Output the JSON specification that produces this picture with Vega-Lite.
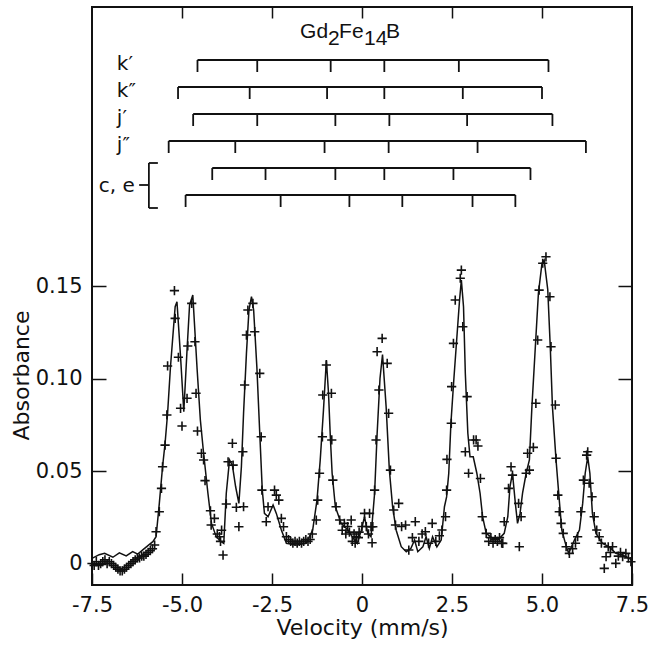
{
  "$schema": "https://vega.github.io/schema/vega-lite/v6.json",
  "width": 540,
  "height": 578,
  "autosize": {"type": "none"},
  "padding": {"left": 92, "top": 7, "right": 19, "bottom": 64},
  "background": "white",
  "config": {
    "view": {"stroke": "#111", "strokeWidth": 2},
    "axis": {
      "domain": false, "grid": false, "ticks": true, "tickColor": "#111", "tickWidth": 1.5, "labelFlush": false,
      "labelFont": "DejaVu Sans", "labelFontSize": 21, "labelColor": "#111",
      "titleFont": "DejaVu Sans", "titleFontSize": 22, "titleFontWeight": "normal", "titleColor": "#111"
    }
  },
  "datasets": {
    "fit": [
      {"v": -7.5, "a": 0.0028}, {"v": -7.3, "a": 0.0048}, {"v": -7.15, "a": 0.0055}, {"v": -6.92, "a": 0.0034},
      {"v": -6.74, "a": 0.0058}, {"v": -6.55, "a": 0.0041}, {"v": -6.37, "a": 0.0064}, {"v": -6.23, "a": 0.0051},
      {"v": -6.04, "a": 0.0082}, {"v": -5.81, "a": 0.0118}, {"v": -5.72, "a": 0.0145}, {"v": -5.63, "a": 0.0325},
      {"v": -5.54, "a": 0.0523}, {"v": -5.47, "a": 0.065}, {"v": -5.40, "a": 0.0812}, {"v": -5.32, "a": 0.1064},
      {"v": -5.19, "a": 0.1388}, {"v": -5.14, "a": 0.1415}, {"v": -5.04, "a": 0.1118}, {"v": -4.95, "a": 0.082},
      {"v": -4.86, "a": 0.1154}, {"v": -4.79, "a": 0.1397}, {"v": -4.70, "a": 0.1451}, {"v": -4.58, "a": 0.105},
      {"v": -4.49, "a": 0.0776}, {"v": -4.40, "a": 0.0596}, {"v": -4.28, "a": 0.038}, {"v": -4.18, "a": 0.0217},
      {"v": -4.05, "a": 0.0145}, {"v": -3.91, "a": 0.0118}, {"v": -3.84, "a": 0.0109}, {"v": -3.77, "a": 0.038},
      {"v": -3.68, "a": 0.056}, {"v": -3.60, "a": 0.053}, {"v": -3.51, "a": 0.0415}, {"v": -3.42, "a": 0.0325},
      {"v": -3.35, "a": 0.0523}, {"v": -3.29, "a": 0.0812}, {"v": -3.21, "a": 0.1136}, {"v": -3.14, "a": 0.137},
      {"v": -3.07, "a": 0.1442}, {"v": -3.01, "a": 0.137}, {"v": -2.92, "a": 0.106}, {"v": -2.84, "a": 0.0704},
      {"v": -2.77, "a": 0.0397}, {"v": -2.71, "a": 0.0271}, {"v": -2.61, "a": 0.0253}, {"v": -2.47, "a": 0.0316},
      {"v": -2.38, "a": 0.0271}, {"v": -2.24, "a": 0.0181}, {"v": -2.10, "a": 0.0109}, {"v": -1.83, "a": 0.010},
      {"v": -1.55, "a": 0.0109}, {"v": -1.37, "a": 0.0181}, {"v": -1.25, "a": 0.0343}, {"v": -1.16, "a": 0.056},
      {"v": -1.07, "a": 0.083}, {"v": -0.99, "a": 0.110}, {"v": -0.93, "a": 0.092}, {"v": -0.88, "a": 0.0685},
      {"v": -0.83, "a": 0.0488}, {"v": -0.74, "a": 0.0307}, {"v": -0.58, "a": 0.0217}, {"v": -0.39, "a": 0.0181},
      {"v": -0.21, "a": 0.0127}, {"v": -0.13, "a": 0.0109}, {"v": -0.02, "a": 0.018}, {"v": 0.07, "a": 0.0253},
      {"v": 0.16, "a": 0.0163}, {"v": 0.25, "a": 0.0145}, {"v": 0.35, "a": 0.038}, {"v": 0.42, "a": 0.070},
      {"v": 0.50, "a": 0.100}, {"v": 0.57, "a": 0.113}, {"v": 0.67, "a": 0.0848}, {"v": 0.76, "a": 0.0505},
      {"v": 0.85, "a": 0.0307}, {"v": 0.95, "a": 0.018}, {"v": 1.09, "a": 0.0091}, {"v": 1.23, "a": 0.0064},
      {"v": 1.36, "a": 0.0082}, {"v": 1.46, "a": 0.0127}, {"v": 1.55, "a": 0.0064}, {"v": 1.69, "a": 0.009},
      {"v": 1.78, "a": 0.0145}, {"v": 1.87, "a": 0.0082}, {"v": 1.96, "a": 0.0145}, {"v": 2.08, "a": 0.009},
      {"v": 2.20, "a": 0.0127}, {"v": 2.29, "a": 0.0307}, {"v": 2.35, "a": 0.036}, {"v": 2.41, "a": 0.0488},
      {"v": 2.47, "a": 0.0758}, {"v": 2.55, "a": 0.0992}, {"v": 2.63, "a": 0.1208}, {"v": 2.71, "a": 0.1424},
      {"v": 2.76, "a": 0.1532}, {"v": 2.82, "a": 0.1388}, {"v": 2.87, "a": 0.1028}, {"v": 2.94, "a": 0.0704},
      {"v": 3.00, "a": 0.0577}, {"v": 3.09, "a": 0.0577}, {"v": 3.19, "a": 0.0488}, {"v": 3.28, "a": 0.038},
      {"v": 3.35, "a": 0.0253}, {"v": 3.45, "a": 0.0163}, {"v": 3.63, "a": 0.0136}, {"v": 3.82, "a": 0.0136},
      {"v": 3.95, "a": 0.0163}, {"v": 4.05, "a": 0.0253}, {"v": 4.11, "a": 0.0415}, {"v": 4.18, "a": 0.0488},
      {"v": 4.26, "a": 0.0325}, {"v": 4.32, "a": 0.0217}, {"v": 4.39, "a": 0.0271}, {"v": 4.46, "a": 0.038},
      {"v": 4.56, "a": 0.0488}, {"v": 4.65, "a": 0.056}, {"v": 4.72, "a": 0.0848}, {"v": 4.81, "a": 0.1154},
      {"v": 4.90, "a": 0.146}, {"v": 5.00, "a": 0.1623}, {"v": 5.06, "a": 0.164}, {"v": 5.16, "a": 0.148},
      {"v": 5.23, "a": 0.117}, {"v": 5.29, "a": 0.0848}, {"v": 5.39, "a": 0.056}, {"v": 5.48, "a": 0.0343},
      {"v": 5.55, "a": 0.0181}, {"v": 5.65, "a": 0.0109}, {"v": 5.74, "a": 0.0055}, {"v": 5.90, "a": 0.0127},
      {"v": 6.04, "a": 0.0181}, {"v": 6.13, "a": 0.0325}, {"v": 6.20, "a": 0.0488}, {"v": 6.27, "a": 0.0577},
      {"v": 6.33, "a": 0.0488}, {"v": 6.40, "a": 0.0271}, {"v": 6.50, "a": 0.0163}, {"v": 6.68, "a": 0.0109},
      {"v": 6.87, "a": 0.009}, {"v": 7.05, "a": 0.0055}, {"v": 7.24, "a": 0.0046}, {"v": 7.42, "a": 0.0028},
      {"v": 7.5, "a": 0.002}
    ],
    "obs": [
      {"v": -7.50, "a": 0.000}, {"v": -7.44, "a": -0.001}, {"v": -7.38, "a": 0.001}, {"v": -7.32, "a": -0.001},
      {"v": -7.26, "a": 0.000}, {"v": -7.20, "a": 0.001}, {"v": -7.14, "a": 0.002}, {"v": -7.08, "a": 0.000},
      {"v": -7.02, "a": 0.001}, {"v": -6.96, "a": 0.000}, {"v": -6.90, "a": -0.001}, {"v": -6.84, "a": -0.002},
      {"v": -6.78, "a": -0.003}, {"v": -6.72, "a": -0.004}, {"v": -6.66, "a": -0.004}, {"v": -6.60, "a": -0.003},
      {"v": -6.54, "a": -0.002}, {"v": -6.48, "a": -0.001}, {"v": -6.42, "a": 0.000}, {"v": -6.36, "a": 0.001},
      {"v": -6.30, "a": 0.002}, {"v": -6.24, "a": 0.003}, {"v": -6.18, "a": 0.003}, {"v": -6.12, "a": 0.004},
      {"v": -6.06, "a": 0.004}, {"v": -6.00, "a": 0.005}, {"v": -5.94, "a": 0.006}, {"v": -5.88, "a": 0.007},
      {"v": -5.82, "a": 0.008}, {"v": -5.76, "a": 0.010},
      {"v": -5.72, "a": 0.0172}, {"v": -5.63, "a": 0.028}, {"v": -5.57, "a": 0.0406}, {"v": -5.54, "a": 0.0523},
      {"v": -5.47, "a": 0.064}, {"v": -5.42, "a": 0.0803}, {"v": -5.40, "a": 0.1068}, {"v": -5.21, "a": 0.1475},
      {"v": -5.19, "a": 0.1325}, {"v": -5.10, "a": 0.1115}, {"v": -5.04, "a": 0.0839}, {"v": -5.00, "a": 0.0743},
      {"v": -4.86, "a": 0.0893}, {"v": -4.84, "a": 0.1176}, {"v": -4.73, "a": 0.1406}, {"v": -4.64, "a": 0.1199},
      {"v": -4.61, "a": 0.092}, {"v": -4.57, "a": 0.0716}, {"v": -4.46, "a": 0.0596}, {"v": -4.40, "a": 0.056},
      {"v": -4.36, "a": 0.0448}, {"v": -4.21, "a": 0.0285}, {"v": -4.19, "a": 0.0208}, {"v": -4.10, "a": 0.0244},
      {"v": -4.02, "a": 0.016}, {"v": -3.96, "a": 0.0145}, {"v": -3.93, "a": 0.012}, {"v": -3.90, "a": 0.018},
      {"v": -3.86, "a": 0.0046}, {"v": -3.77, "a": 0.0322}, {"v": -3.72, "a": 0.055}, {"v": -3.60, "a": 0.065},
      {"v": -3.58, "a": 0.0532}, {"v": -3.49, "a": 0.0304}, {"v": -3.42, "a": 0.0199}, {"v": -3.31, "a": 0.0604},
      {"v": -3.29, "a": 0.0307}, {"v": -3.26, "a": 0.0965}, {"v": -3.21, "a": 0.1235}, {"v": -3.17, "a": 0.137},
      {"v": -3.03, "a": 0.1406}, {"v": -2.98, "a": 0.1253}, {"v": -2.84, "a": 0.1028}, {"v": -2.80, "a": 0.0685},
      {"v": -2.78, "a": 0.0397}, {"v": -2.66, "a": 0.0226}, {"v": -2.61, "a": 0.0307}, {"v": -2.43, "a": 0.0397},
      {"v": -2.38, "a": 0.037}, {"v": -2.31, "a": 0.0343}, {"v": -2.24, "a": 0.0244}, {"v": -2.18, "a": 0.0199},
      {"v": -2.10, "a": 0.0145}, {"v": -2.04, "a": 0.013}, {"v": -1.98, "a": 0.012}, {"v": -1.92, "a": 0.011},
      {"v": -1.86, "a": 0.012}, {"v": -1.80, "a": 0.011}, {"v": -1.74, "a": 0.012}, {"v": -1.68, "a": 0.011},
      {"v": -1.62, "a": 0.012}, {"v": -1.56, "a": 0.013}, {"v": -1.50, "a": 0.012}, {"v": -1.44, "a": 0.013},
      {"v": -1.38, "a": 0.016}, {"v": -1.27, "a": 0.0235}, {"v": -1.23, "a": 0.0343}, {"v": -1.18, "a": 0.0488},
      {"v": -1.10, "a": 0.0685}, {"v": -1.09, "a": 0.0911}, {"v": -0.99, "a": 0.1073}, {"v": -0.85, "a": 0.092},
      {"v": -0.84, "a": 0.0668}, {"v": -0.81, "a": 0.0451}, {"v": -0.72, "a": 0.0307}, {"v": -0.62, "a": 0.0235},
      {"v": -0.55, "a": 0.018}, {"v": -0.49, "a": 0.0217}, {"v": -0.45, "a": 0.016}, {"v": -0.40, "a": 0.020},
      {"v": -0.35, "a": 0.017}, {"v": -0.30, "a": 0.0235}, {"v": -0.27, "a": 0.012}, {"v": -0.22, "a": 0.016},
      {"v": -0.19, "a": 0.011}, {"v": -0.16, "a": 0.0145}, {"v": -0.10, "a": 0.014}, {"v": -0.08, "a": 0.017},
      {"v": 0.00, "a": 0.020}, {"v": 0.07, "a": 0.0271}, {"v": 0.12, "a": 0.020}, {"v": 0.18, "a": 0.016},
      {"v": 0.21, "a": 0.0271}, {"v": 0.25, "a": 0.0199}, {"v": 0.28, "a": 0.0112}, {"v": 0.30, "a": 0.0199},
      {"v": 0.35, "a": 0.0397}, {"v": 0.39, "a": 0.0668}, {"v": 0.42, "a": 0.1145}, {"v": 0.47, "a": 0.0938},
      {"v": 0.56, "a": 0.1217}, {"v": 0.70, "a": 0.1082}, {"v": 0.74, "a": 0.0812}, {"v": 0.79, "a": 0.0505},
      {"v": 0.88, "a": 0.0289}, {"v": 0.93, "a": 0.0208}, {"v": 1.02, "a": 0.0325}, {"v": 1.10, "a": 0.020},
      {"v": 1.21, "a": 0.0208}, {"v": 1.30, "a": 0.0073}, {"v": 1.40, "a": 0.014}, {"v": 1.48, "a": 0.0226},
      {"v": 1.58, "a": 0.012}, {"v": 1.67, "a": 0.016}, {"v": 1.76, "a": 0.0172}, {"v": 1.85, "a": 0.011},
      {"v": 1.95, "a": 0.0217}, {"v": 2.05, "a": 0.012}, {"v": 2.15, "a": 0.015}, {"v": 2.22, "a": 0.0181},
      {"v": 2.32, "a": 0.0253}, {"v": 2.35, "a": 0.0397}, {"v": 2.36, "a": 0.0563}, {"v": 2.48, "a": 0.0758},
      {"v": 2.49, "a": 0.0956}, {"v": 2.54, "a": 0.119}, {"v": 2.59, "a": 0.1424}, {"v": 2.73, "a": 0.1542},
      {"v": 2.76, "a": 0.1586}, {"v": 2.80, "a": 0.128}, {"v": 2.87, "a": 0.0604}, {"v": 2.92, "a": 0.0902},
      {"v": 2.96, "a": 0.0488}, {"v": 3.10, "a": 0.0668}, {"v": 3.17, "a": 0.0668}, {"v": 3.22, "a": 0.0635},
      {"v": 3.29, "a": 0.046}, {"v": 3.34, "a": 0.0253}, {"v": 3.45, "a": 0.0163}, {"v": 3.52, "a": 0.012},
      {"v": 3.58, "a": 0.014}, {"v": 3.64, "a": 0.011}, {"v": 3.70, "a": 0.013}, {"v": 3.76, "a": 0.012},
      {"v": 3.82, "a": 0.014}, {"v": 3.88, "a": 0.011}, {"v": 3.91, "a": 0.0109}, {"v": 3.95, "a": 0.0226},
      {"v": 4.07, "a": 0.0406}, {"v": 4.14, "a": 0.0523}, {"v": 4.18, "a": 0.0478}, {"v": 4.35, "a": 0.0325},
      {"v": 4.37, "a": 0.0091}, {"v": 4.42, "a": 0.0253}, {"v": 4.56, "a": 0.0488}, {"v": 4.60, "a": 0.0596},
      {"v": 4.65, "a": 0.0505}, {"v": 4.76, "a": 0.0628}, {"v": 4.83, "a": 0.0866}, {"v": 4.88, "a": 0.1208},
      {"v": 4.92, "a": 0.1478}, {"v": 5.02, "a": 0.1623}, {"v": 5.11, "a": 0.1658}, {"v": 5.22, "a": 0.1442},
      {"v": 5.25, "a": 0.1172}, {"v": 5.37, "a": 0.0857}, {"v": 5.39, "a": 0.0569}, {"v": 5.44, "a": 0.037},
      {"v": 5.48, "a": 0.028}, {"v": 5.53, "a": 0.0217}, {"v": 5.59, "a": 0.0163}, {"v": 5.67, "a": 0.0091},
      {"v": 5.76, "a": 0.0055}, {"v": 5.85, "a": 0.008}, {"v": 5.93, "a": 0.011}, {"v": 5.99, "a": 0.0145},
      {"v": 6.08, "a": 0.028}, {"v": 6.15, "a": 0.0451}, {"v": 6.24, "a": 0.0586}, {"v": 6.27, "a": 0.0604},
      {"v": 6.31, "a": 0.0434}, {"v": 6.39, "a": 0.0361}, {"v": 6.45, "a": 0.0253}, {"v": 6.52, "a": 0.0181},
      {"v": 6.59, "a": 0.0145}, {"v": 6.65, "a": 0.011}, {"v": 6.73, "a": -0.0026}, {"v": 6.78, "a": 0.0037},
      {"v": 6.84, "a": 0.009}, {"v": 6.90, "a": 0.006}, {"v": 6.96, "a": 0.0091}, {"v": 7.05, "a": 0.0001},
      {"v": 7.12, "a": 0.004}, {"v": 7.18, "a": 0.006}, {"v": 7.24, "a": 0.0037}, {"v": 7.33, "a": 0.0055},
      {"v": 7.40, "a": 0.003}, {"v": 7.47, "a": 0.001}
    ],
    "sticks": [
      {"row": "k′", "v": -4.57}, {"row": "k′", "v": -2.91}, {"row": "k′", "v": -0.87}, {"row": "k′", "v": 0.62}, {"row": "k′", "v": 2.69}, {"row": "k′", "v": 5.18},
      {"row": "k″", "v": -5.11}, {"row": "k″", "v": -3.12}, {"row": "k″", "v": -0.97}, {"row": "k″", "v": 0.62}, {"row": "k″", "v": 2.80}, {"row": "k″", "v": 5.00},
      {"row": "j′", "v": -4.69}, {"row": "j′", "v": -2.91}, {"row": "j′", "v": -0.74}, {"row": "j′", "v": 0.76}, {"row": "j′", "v": 2.92}, {"row": "j′", "v": 5.29},
      {"row": "j″", "v": -5.37}, {"row": "j″", "v": -3.52}, {"row": "j″", "v": -1.04}, {"row": "j″", "v": 0.74}, {"row": "j″", "v": 3.21}, {"row": "j″", "v": 6.22},
      {"row": "ce1", "v": -4.16}, {"row": "ce1", "v": -2.68}, {"row": "ce1", "v": -0.74}, {"row": "ce1", "v": 0.62}, {"row": "ce1", "v": 2.54}, {"row": "ce1", "v": 4.68},
      {"row": "ce2", "v": -4.90}, {"row": "ce2", "v": -2.26}, {"row": "ce2", "v": -0.35}, {"row": "ce2", "v": 1.12}, {"row": "ce2", "v": 3.07}, {"row": "ce2", "v": 4.26}
    ],
    "rowlabels": [{"row": "k′"}, {"row": "k″"}, {"row": "j′"}, {"row": "j″"}]
  },
  "resolve": {"scale": {"y": "independent"}, "axis": {"x": "independent", "y": "independent"}},
  "layer": [
    {
      "resolve": {"axis": {"x": "independent", "y": "independent"}},
      "layer": [
        {
          "data": {"name": "fit"},
          "mark": {"type": "line", "stroke": "#111", "strokeWidth": 1.5},
          "encoding": {
            "x": {"field": "v", "type": "quantitative", "scale": {"domain": [-7.5, 7.5], "nice": false, "zero": false},
              "axis": {"orient": "bottom", "values": [-7.5, -5, -2.5, 0, 2.5, 5, 7.5], "tickSize": -12, "labelPadding": 21,
                "labelExpr": "datum.value == 0 ? '0' : (datum.value < 0 ? '-' : '') + format(abs(datum.value), '.1f')",
                "title": "Velocity (mm/s)", "titleY": 49, "titleBaseline": "alphabetic"}},
            "y": {"field": "a", "type": "quantitative", "scale": {"domain": [-0.0116, 0.3008], "nice": false, "zero": false},
              "axis": {"orient": "left", "values": [0, 0.05, 0.1, 0.15], "tickSize": -14, "labelPadding": 24,
                "labelExpr": "datum.value == 0 ? '0' : format(datum.value, '.2f')",
                "title": "Absorbance", "titleX": -71, "titleY": 368, "titleBaseline": "middle", "titleAlign": "center", "titleAngle": -90}}
          }
        },
        {
          "data": {"name": "obs"},
          "mark": {"type": "point", "shape": "M-1,0H1M0,-1V1", "filled": false, "stroke": "#111", "strokeWidth": 1.6, "size": 85, "opacity": 1},
          "encoding": {
            "x": {"field": "v", "type": "quantitative",
              "axis": {"orient": "top", "values": [-5, -2.5, 0, 2.5, 5], "tickSize": -11, "labels": false, "title": null}},
            "y": {"field": "a", "type": "quantitative",
              "axis": {"orient": "right", "values": [0.05, 0.1, 0.15], "tickSize": -14, "labels": false, "title": null}}
          }
        },
        {
          "data": {"values": [{}]},
          "mark": {"type": "text", "align": "left", "baseline": "alphabetic", "font": "Liberation Sans", "fontSize": 21, "fill": "#111", "dx": 0},
          "encoding": {"x": {"datum": -1.72, "axis": null}, "y": {"datum": 0.2842, "axis": null}, "text": {"value": "Gd"}}
        },
        {
          "data": {"values": [{}]},
          "mark": {"type": "text", "align": "left", "baseline": "alphabetic", "font": "Liberation Sans", "fontSize": 21, "fill": "#111", "dx": 28, "dy": 7},
          "encoding": {"x": {"datum": -1.72, "axis": null}, "y": {"datum": 0.2842, "axis": null}, "text": {"value": "2"}}
        },
        {
          "data": {"values": [{}]},
          "mark": {"type": "text", "align": "left", "baseline": "alphabetic", "font": "Liberation Sans", "fontSize": 21, "fill": "#111", "dx": 39},
          "encoding": {"x": {"datum": -1.72, "axis": null}, "y": {"datum": 0.2842, "axis": null}, "text": {"value": "Fe"}}
        },
        {
          "data": {"values": [{}]},
          "mark": {"type": "text", "align": "left", "baseline": "alphabetic", "font": "Liberation Sans", "fontSize": 21, "fill": "#111", "dx": 64, "dy": 7},
          "encoding": {"x": {"datum": -1.72, "axis": null}, "y": {"datum": 0.2842, "axis": null}, "text": {"value": "14"}}
        },
        {
          "data": {"values": [{}]},
          "mark": {"type": "text", "align": "left", "baseline": "alphabetic", "font": "Liberation Sans", "fontSize": 21, "fill": "#111", "dx": 86},
          "encoding": {"x": {"datum": -1.72, "axis": null}, "y": {"datum": 0.2842, "axis": null}, "text": {"value": "B"}}
        }
      ]
    },
    {
      "layer": [
        {
          "data": {"name": "sticks"},
          "mark": {"type": "rule", "stroke": "#111", "strokeWidth": 1.8, "yOffset": -6},
          "encoding": {
            "x": {"aggregate": "min", "field": "v", "type": "quantitative", "axis": null},
            "x2": {"aggregate": "max", "field": "v"},
            "y": {"field": "row", "type": "nominal", "axis": null,
              "scale": {"type": "point", "domain": ["k′", "k″", "j′", "j″", "ce1", "ce2"], "range": [59, 194], "padding": 0}}
          }
        },
        {
          "data": {"name": "sticks"},
          "mark": {"type": "tick", "color": "#111", "thickness": 1.8, "size": 12, "opacity": 1},
          "encoding": {
            "x": {"field": "v", "type": "quantitative", "axis": null},
            "y": {"field": "row", "type": "nominal", "axis": null}
          }
        },
        {
          "data": {"name": "rowlabels"},
          "mark": {"type": "text", "align": "left", "baseline": "middle", "font": "DejaVu Sans", "fontSize": 20, "fill": "#111", "dy": -2},
          "encoding": {
            "x": {"datum": -6.81, "axis": null},
            "y": {"field": "row", "type": "nominal", "axis": null},
            "text": {"field": "row"}
          }
        },
        {
          "data": {"values": [{}]},
          "mark": {"type": "text", "align": "right", "baseline": "middle", "font": "DejaVu Sans", "fontSize": 20, "fill": "#111", "dy": 12},
          "encoding": {"x": {"datum": -6.31, "axis": null}, "y": {"datum": "ce1", "type": "nominal", "axis": null}, "text": {"value": "c, e"}}
        },
        {
          "data": {"values": [{}]},
          "mark": {"type": "rule", "stroke": "#111", "strokeWidth": 1.8, "yOffset": -11, "y2Offset": 7},
          "encoding": {"x": {"datum": -5.92, "axis": null}, "y": {"datum": "ce1", "type": "nominal", "axis": null}, "y2": {"datum": "ce2"}}
        },
        {
          "data": {"values": [{}]},
          "mark": {"type": "rule", "stroke": "#111", "strokeWidth": 1.8, "yOffset": -11},
          "encoding": {"x": {"datum": -5.92, "axis": null}, "x2": {"datum": -5.67}, "y": {"datum": "ce1", "type": "nominal", "axis": null}}
        },
        {
          "data": {"values": [{}]},
          "mark": {"type": "rule", "stroke": "#111", "strokeWidth": 1.8, "yOffset": 7},
          "encoding": {"x": {"datum": -5.92, "axis": null}, "x2": {"datum": -5.67}, "y": {"datum": "ce2", "type": "nominal", "axis": null}}
        },
        {
          "data": {"values": [{}]},
          "mark": {"type": "rule", "stroke": "#111", "strokeWidth": 1.8, "yOffset": 11},
          "encoding": {"x": {"datum": -6.19, "axis": null}, "x2": {"datum": -5.94}, "y": {"datum": "ce1", "type": "nominal", "axis": null}}
        }
      ]
    }
  ]
}
